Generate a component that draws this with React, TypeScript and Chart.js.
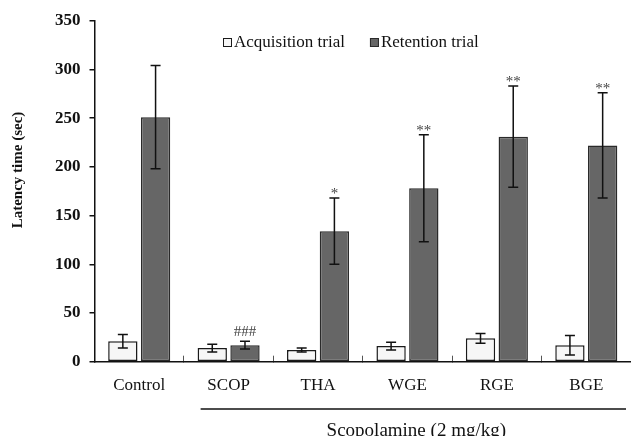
import React, { useEffect, useRef } from 'react';
import { Chart, registerables } from 'chart.js';

Chart.register(...registerables);

const categories = ['Control', 'SCOP', 'THA', 'WGE', 'RGE', 'BGE'];
const acquisition = [21, 14, 12, 16, 24, 17];
const acquisitionErr = [7, 4, 2, 4, 5, 10];
const retention = [251, 17, 134, 178, 231, 222];
const retentionErr = [53, 4, 34, 55, 52, 54];
const retentionMarks = ['', '###', '*', '**', '**', '**'];
const seriesNames = ['Acquisition trial', 'Retention trial'];
const yTicks = [0, 50, 100, 150, 200, 250, 300, 350];
const yTitle = 'Latency time (sec)';
const groupLabel = 'Scopolamine (2 mg/kg)';

const SERIF = '"Liberation Serif", "Times New Roman", Times, serif';
const ACQ_FILL = '#f6f6f6';
const ACQ_BORDER = '#1a1a1a';
const RET_FILL = '#666666';
const RET_BORDER = '#2a2a2a';

export default function App() {
  const ref = useRef<HTMLCanvasElement>(null);

  useEffect(() => {
    const canvas = ref.current;
    if (!canvas) return;

    const errorBars = {
      id: 'errorBars',
      afterDatasetsDraw(chart: any) {
        const ctx = chart.ctx;
        const y = chart.scales.y;
        const errs = [acquisitionErr, retentionErr];
        chart.data.datasets.forEach((ds: any, di: number) => {
          const meta = chart.getDatasetMeta(di);
          meta.data.forEach((bar: any, i: number) => {
            const v = ds.data[i] as number;
            const e = errs[di][i];
            const yTop = y.getPixelForValue(v + e);
            const yBot = y.getPixelForValue(v - e);
            ctx.save();
            ctx.strokeStyle = '#111';
            ctx.lineWidth = 1.5;
            ctx.beginPath();
            ctx.moveTo(bar.x, yTop);
            ctx.lineTo(bar.x, yBot);
            ctx.moveTo(bar.x - 5, yTop);
            ctx.lineTo(bar.x + 5, yTop);
            ctx.moveTo(bar.x - 5, yBot);
            ctx.lineTo(bar.x + 5, yBot);
            ctx.stroke();
            ctx.restore();
            if (di === 1 && retentionMarks[i]) {
              const mark = retentionMarks[i];
              const isHash = mark.startsWith('#');
              ctx.save();
              ctx.fillStyle = '#444';
              ctx.font = `${isHash ? 15 : 15}px ${SERIF}`;
              ctx.textAlign = 'center';
              ctx.textBaseline = 'alphabetic';
              ctx.fillText(mark, bar.x, yTop - (isHash ? 5 : 0));
              ctx.restore();
            }
          });
        });
      },
    };

    const decorations = {
      id: 'decorations',
      afterDraw(chart: any) {
        const ctx = chart.ctx;
        const area = chart.chartArea;
        const x = chart.scales.x;
        ctx.save();
        // legend
        ctx.font = `17px ${SERIF}`;
        ctx.textBaseline = 'alphabetic';
        ctx.textAlign = 'left';
        let lx = 223;
        const fills = [ACQ_FILL, RET_FILL];
        const borders = [ACQ_BORDER, RET_BORDER];
        seriesNames.forEach((name, i) => {
          ctx.fillStyle = fills[i];
          ctx.fillRect(lx, 38, 9, 9);
          ctx.strokeStyle = borders[i];
          ctx.lineWidth = 1;
          ctx.strokeRect(lx + 0.5, 38.5, 8, 8);
          ctx.fillStyle = '#111';
          ctx.fillText(name, lx + 11, 47);
          lx += 11 + ctx.measureText(name).width + 25;
        });
        // y title
        ctx.save();
        ctx.translate(18, 170);
        ctx.rotate(-Math.PI / 2);
        ctx.font = `bold 15px ${SERIF}`;
        ctx.textAlign = 'center';
        ctx.textBaseline = 'middle';
        ctx.fillStyle = '#111';
        ctx.fillText(yTitle, 0, 0);
        ctx.restore();
        // group line and label
        const x0 = x.getPixelForValue(1) - 28;
        const x1 = area.right - 5;
        ctx.strokeStyle = '#111';
        ctx.lineWidth = 1.5;
        ctx.beginPath();
        ctx.moveTo(x0, 409);
        ctx.lineTo(x1, 409);
        ctx.stroke();
        ctx.font = `19px ${SERIF}`;
        ctx.textAlign = 'center';
        ctx.fillStyle = '#111';
        ctx.fillText(groupLabel, (x0 + x1) / 2 + 3, 436);
        ctx.restore();
      },
    };

    const chart = new Chart(canvas, {
      type: 'bar',
      data: {
        labels: categories,
        datasets: [
          {
            label: seriesNames[0],
            data: acquisition,
            backgroundColor: ACQ_FILL,
            borderColor: ACQ_BORDER,
            borderWidth: 1.5,
            borderSkipped: false,
            categoryPercentage: 0.732,
            barPercentage: 0.896,
          },
          {
            label: seriesNames[1],
            data: retention,
            backgroundColor: RET_FILL,
            borderColor: RET_BORDER,
            borderWidth: 1.5,
            borderSkipped: false,
            categoryPercentage: 0.732,
            barPercentage: 0.896,
          },
        ],
      },
      options: {
        animation: false,
        responsive: false,
        devicePixelRatio: 1,
        layout: { padding: { top: 20.7, right: 0, bottom: 0, left: 0 } },
        plugins: {
          legend: { display: false },
          tooltip: { enabled: false },
          title: { display: false },
        },
        scales: {
          x: {
            offset: true,
            grid: {
              offset: true,
              drawOnChartArea: false,
              drawTicks: true,
              tickLength: -6,
              color: '#555',
              lineWidth: 1,
            },
            border: { display: true, color: '#111', width: 1.5 },
            ticks: {
              color: '#111',
              font: { family: SERIF, size: 17 },
              padding: 20,
              maxRotation: 0,
              autoSkip: false,
            },
            afterFit(scale: any) {
              scale.height = 74.3;
            },
          },
          y: {
            min: 0,
            max: 350,
            afterBuildTicks(scale: any) {
              scale.ticks = yTicks.map((v) => ({ value: v }));
            },
            grid: {
              drawOnChartArea: false,
              drawTicks: true,
              tickLength: 5,
              color: '#111',
              lineWidth: 1.5,
            },
            border: { display: true, color: '#111', width: 1.5 },
            ticks: {
              color: '#111',
              font: { family: SERIF, size: 17, weight: 'bold' },
              padding: 9,
            },
            afterFit(scale: any) {
              scale.width = 94.5;
            },
          },
        },
      },
      plugins: [errorBars, decorations],
    });

    return () => chart.destroy();
  }, []);

  return (
    <div style={{ position: 'fixed', left: 0, top: 0, width: 631, height: 436, background: '#fff' }}>
      <canvas ref={ref} width={631} height={436} style={{ display: 'block', width: 631, height: 436 }} />
    </div>
  );
}
